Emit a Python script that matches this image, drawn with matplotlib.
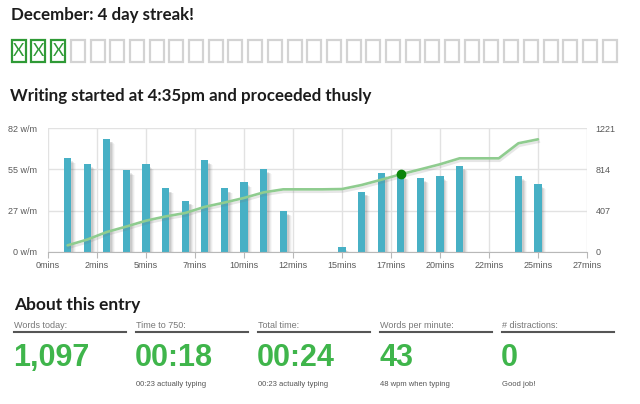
import matplotlib
matplotlib.use("Agg")
import matplotlib.pyplot as plt
from matplotlib.patches import Rectangle
import matplotlib.transforms as mtransforms
import numpy as np

# ---- data ----
minutes = list(range(1, 26))
wpm = [62, 58, 75, 54, 58, 42, 34, 61, 42, 46, 55, 27, 0, 0, 3,
       40, 52, 51, 49, 50, 57, 0, 0, 50, 45]
words = [63, 120, 195, 249, 307, 349, 383, 444, 486, 532, 587, 617, 617, 617, 620,
         660, 712, 766, 815, 865, 924, 924, 924, 1073, 1112]
goal_minute = 18
goal_words = 766

xtick_labels = ["0mins", "2mins", "5mins", "7mins", "10mins", "12mins",
                "15mins", "17mins", "20mins", "22mins", "25mins", "27mins"]
left_ticks = ["0 w/m", "27 w/m", "55 w/m", "82 w/m"]
right_ticks = ["0", "407", "814", "1221"]

days_in_month = 31
days_done = 3

stat_labels = ["Words today:", "Time to 750:", "Total time:", "Words per minute:", "# distractions:"]
stat_values = ["1,097", "00:18", "00:24", "43", "0"]
stat_notes = ["", "00:23 actually typing", "00:23 actually typing", "48 wpm when typing", "Good job!"]

# ---- styles ----
HEAD = ["Lato", "DejaVu Sans"]
BODY = ["Liberation Sans", "DejaVu Sans"]
BAR = "#47b0c5"
LINE = "#8fcc8f"
GREEN = "#3fb54b"
BOXGREEN = "#2f9a36"
GRID = "#e2e2e2"
TICK = "#5a5a5a"

fig = plt.figure(figsize=(6.4, 4.04), dpi=100)
fig.patch.set_facecolor("white")

# overlay in pixel coordinates for headings, boxes and stats
ov = fig.add_axes([0, 0, 1, 1])
ov.set_xlim(0, 640)
ov.set_ylim(404, 0)
ov.axis("off")

ov.text(11, 20, "December: 4 day streak!", family=HEAD, weight="bold",
        fontsize=12.2, color="#1c1c1c", va="baseline")
ov.text(10, 101, "Writing started at 4:35pm and proceeded thusly", family=HEAD,
        weight="bold", fontsize=12.2, color="#1c1c1c", va="baseline")
ov.text(14, 310, "About this entry", family=HEAD, weight="bold",
        fontsize=12.5, color="#1c1c1c", va="baseline")

for d in range(days_in_month):
    bx = 11.7 + d * 19.7
    done = d < days_done
    ov.add_patch(Rectangle((bx, 40), 14, 22, fill=False, lw=1.6,
                           ec=BOXGREEN if done else "#d3d3d3"))
    if done:
        ov.text(bx + 7, 51.5, "X", family=HEAD, fontsize=12.5, color=BOXGREEN,
                ha="center", va="center")

for i, (lab, val, note) in enumerate(zip(stat_labels, stat_values, stat_notes)):
    cx = 14 + i * 122
    ov.text(cx, 328, lab, family=BODY, fontsize=6.5, color="#777777", va="baseline")
    ov.plot([cx, cx + 112], [332, 332], color="#555555", lw=1.5)
    ov.text(cx - 1, 366, val, family=BODY, weight="bold", fontsize=22,
            color=GREEN, va="baseline")
    ov.text(cx, 386, note, family=BODY, fontsize=5.5, color="#555555", va="baseline")

# ---- chart ----
ax = fig.add_axes([48 / 640, (404 - 251.7) / 404, 539 / 640, 123.4 / 404])
ax2 = ax.twinx()
ax.set_zorder(ax2.get_zorder() + 1)
ax.patch.set_visible(False)

xs = np.array(minutes, dtype=float)
vals = np.array(wpm, dtype=float)
# soft shadow behind the bars
for k, a in enumerate([0.13, 0.10, 0.07, 0.04]):
    ax.bar(xs + 0.1 + k * 0.05, np.clip(vals - 2.0 - k * 0.4, 0, None), width=0.36,
           color="#555555", alpha=a, lw=0, zorder=1)
ax.bar(xs, vals, width=0.36, color=BAR, lw=0, zorder=2)

ax.set_xlim(0, 27.5)
ax.set_ylim(0, 82)
ax.set_xticks(np.linspace(0, 27.5, 12))
ax.set_xticklabels(xtick_labels)
ax.set_yticks(np.linspace(0, 82, 4))
ax.set_yticklabels(left_ticks)
ax.grid(True, color=GRID, lw=1, zorder=0)
ax.set_axisbelow(True)
for s in ["top", "right", "left"]:
    ax.spines[s].set_visible(False)
ax.spines["bottom"].set_color("#b8b8b8")
ax.tick_params(axis="x", length=4, color="#b8b8b8", labelsize=6.5,
               labelcolor=TICK, pad=3)
ax.tick_params(axis="y", length=0, labelsize=6.5, labelcolor=TICK, pad=8)
for t in ax.get_xticklabels() + ax.get_yticklabels():
    t.set_family(BODY)

ax2.set_ylim(0, 1221)
ax2.set_yticks(np.linspace(0, 1221, 4))
ax2.set_yticklabels(right_ticks)
ax2.tick_params(axis="y", length=0, labelsize=6.5, labelcolor=TICK, pad=6)
for t in ax2.get_yticklabels():
    t.set_family(BODY)
for s in ax2.spines.values():
    s.set_visible(False)

# cumulative line on top of the bars, with a faint drop shadow
shadow_tr = mtransforms.offset_copy(ax2.transData, fig=fig, x=0.6, y=-1.8, units="points")
ax.plot(xs, words, color="#777777", alpha=0.18, lw=1.8, transform=shadow_tr, zorder=3)
ax.plot(xs, words, color=LINE, lw=1.9, transform=ax2.transData, zorder=4,
        solid_capstyle="round")
ax.plot([goal_minute], [goal_words], "o", color="#0a850a", ms=6,
        transform=ax2.transData, zorder=5)

fig.savefig("out.png", dpi=100, facecolor="white")
